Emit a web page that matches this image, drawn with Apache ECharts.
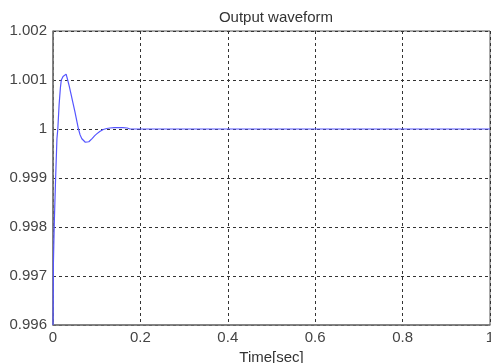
<!DOCTYPE html>
<html>
<head>
<meta charset="utf-8">
<script src="https://cdn.jsdelivr.net/npm/echarts@6/dist/echarts.min.js"></script>
<style>
html,body{margin:0;padding:0;background:#fff;}
#chart{width:491px;height:363px;}
</style>
</head>
<body>
<div id="chart"></div>
<script>
const chartTitle = 'Output waveform';
const xAxisName = 'Time[sec]';
const timeValues = [0, 0.0005, 0.001, 0.003, 0.006, 0.009, 0.011, 0.014, 0.017, 0.019, 0.023, 0.027, 0.030, 0.033, 0.037, 0.041, 0.045, 0.050, 0.055, 0.058, 0.062, 0.066, 0.070, 0.074, 0.078, 0.082, 0.086, 0.090, 0.095, 0.100, 0.107, 0.115, 0.123, 0.130, 0.140, 0.150, 0.160, 0.170, 0.176, 0.190, 0.200, 0.400, 0.600, 0.800, 1.000];
const outputValues = [0.9960, 0.9964, 0.9973, 0.9981, 0.9990, 0.9998, 1.0000, 1.0005, 1.00085, 1.0010, 1.00107, 1.00111, 1.00112, 1.00102, 1.00088, 1.00072, 1.00056, 1.00036, 1.00014, 1.00001, 0.99988, 0.99980, 0.99976, 0.99973, 0.99973, 0.99974, 0.99977, 0.99981, 0.99986, 0.99990, 0.99995, 0.99999, 1.00001, 1.00002, 1.00003, 1.00003, 1.00003, 1.00002, 1.00000, 1.00000, 1.00000, 1.00000, 1.00000, 1.00000, 1.00000];
const xTicks = {min: 0, max: 1, step: 0.2};
const yTicks = {min: 0.996, max: 1.002, step: 0.001};

const chart = echarts.init(document.getElementById('chart'), null, {renderer: 'canvas'});
const fontFamily = 'Liberation Sans, Arial, sans-serif';
const fmt = v => String(Number(v.toFixed(3)));
chart.setOption({
  animation: false,
  backgroundColor: '#ffffff',
  title: {
    text: chartTitle,
    left: 271, top: 5, textAlign: 'center',
    textStyle: {fontFamily, fontSize: 15, fontWeight: 'normal', color: '#333'}
  },
  grid: {
    left: 53, right: 1, top: 31, bottom: 38,
    containLabel: false, outerBoundsMode: 'none',
    show: true, borderColor: '#555', borderWidth: 1, backgroundColor: '#fff'
  },
  xAxis: {
    type: 'value', min: xTicks.min, max: xTicks.max, interval: xTicks.step,
    name: xAxisName, nameLocation: 'middle', nameGap: 19,
    nameTextStyle: {fontFamily, fontSize: 15, color: '#333', verticalAlign: 'top'},
    axisLine: {show: true, onZero: false, lineStyle: {color: '#777', width: 1.5}},
    axisTick: {show: false},
    axisLabel: {fontFamily, fontSize: 15, color: '#444', margin: 5, formatter: fmt},
    splitLine: {show: true, lineStyle: {color: '#333', type: [3, 3], width: 1}}
  },
  yAxis: {
    type: 'value', min: yTicks.min, max: yTicks.max, interval: yTicks.step,
    axisLine: {show: true, lineStyle: {color: '#777', width: 1.5}},
    axisTick: {show: false},
    axisLabel: {fontFamily, fontSize: 15, color: '#444', margin: 6, formatter: fmt},
    splitLine: {show: true, lineStyle: {color: '#333', type: [3, 3], width: 1}}
  },
  series: [{
    type: 'line',
    data: timeValues.map((t, i) => [t, outputValues[i]]),
    showSymbol: false,
    smooth: false,
    lineStyle: {color: '#5555ff', width: 1.2},
    clip: true
  }]
});
</script>
</body>
</html>
